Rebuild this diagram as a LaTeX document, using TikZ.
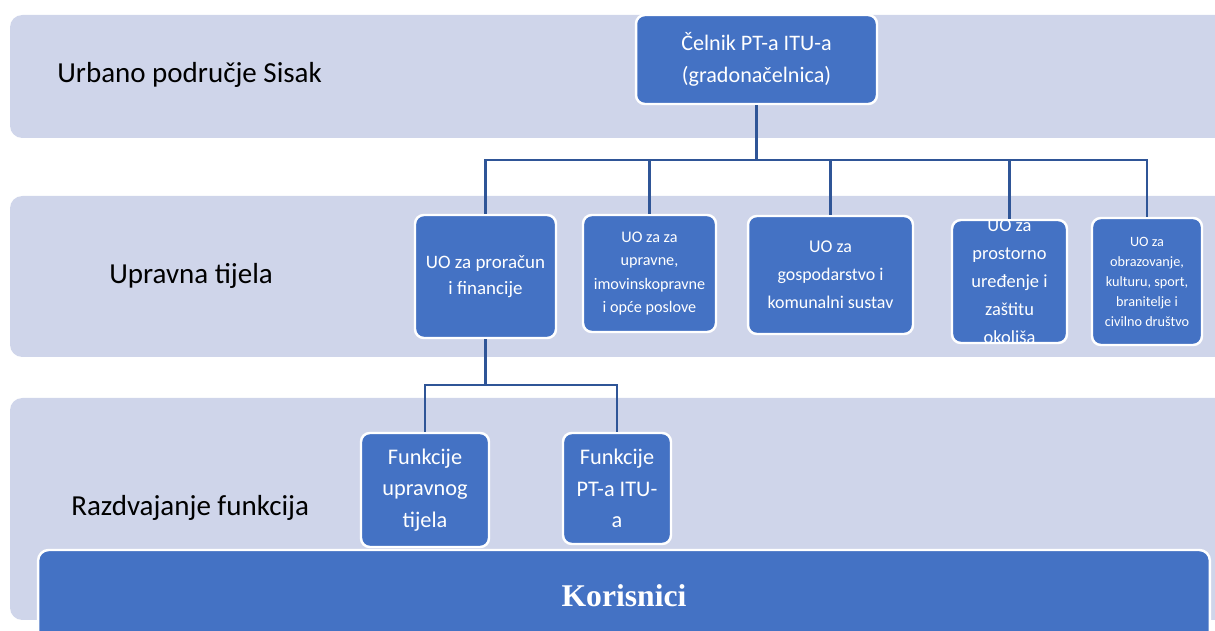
\documentclass[tikz,border=0pt]{standalone}
\usepackage{fontspec}
\setmainfont{Carlito}
\newfontfamily\korfont{Liberation Serif}
\definecolor{bandfill}{HTML}{CFD5EA}
\definecolor{boxfill}{HTML}{4472C4}
\definecolor{linkcol}{HTML}{2F5597}

\begin{document}
\begin{tikzpicture}
[   x=0.02cm, y=-0.02cm,
    band/.style={fill=bandfill,rounded corners=7pt},
    obox/.style={draw=white,line width=1.4pt,fill=boxfill,rounded corners=5pt,
                 text=white,align=center,inner sep=1pt},
    boxtxt/.style={text=white,align=center,inner sep=0pt},
    link/.style={draw=linkcol,line width=1.6pt},
    lbl/.style={anchor=west,inner sep=0pt,font=\fontsize{16.5}{20}\selectfont},
]
    \useasboundingbox (0,0) rectangle (1215,631);
    % background bands
    \fill[band] (10,15) rectangle (1245,138);
    \fill[band] (10,196) rectangle (1245,357);
    \fill[band] (10,398) rectangle (1245,620);

    \node[lbl] (l1) at (57,75) {Urbano područje Sisak};
    \node[lbl] (l2) at (109,276) {Upravna tijela};
    \node[lbl] (l3) at (71,508) {Razdvajanje funkcija};

    % boxes
    \node[obox,minimum width=4.82cm,minimum height=1.78cm,font=\fontsize{12.6}{18}\selectfont]
        (top) at (756.5,59.5) {Čelnik PT-a ITU-a\\(gradonačelnica)};
    \node[obox,minimum width=2.82cm,minimum height=2.46cm,font=\fontsize{10.8}{14.8}\selectfont]
        (b1) at (485.5,276.5) {UO za proračun\\i financije};
    \node[obox,minimum width=2.66cm,minimum height=2.34cm,font=\fontsize{9.2}{13.4}\selectfont]
        (b2) at (649.5,273.5) {UO za za\\upravne,\\imovinskopravne\\i opće poslove};
    \node[obox,minimum width=3.3cm,minimum height=2.36cm,font=\fontsize{10.2}{16}\selectfont]
        (b3) at (830.5,275) {UO za\\gospodarstvo i\\komunalni sustav};
    \node[obox,minimum width=2.3cm,minimum height=2.46cm] (b4) at (1009.5,281.5) {};
    \begin{scope}
        \clip (b4.north west) rectangle (b4.south east);
        \node[boxtxt,font=\fontsize{10.5}{16}\selectfont] (b4text) at (b4)
            {UO za\\prostorno\\uređenje i\\zaštitu\\okoliša};
    \end{scope}
    \node[obox,minimum width=2.2cm,minimum height=2.54cm,font=\fontsize{8.1}{11.4}\selectfont]
        (b5) at (1147,281.5) {UO za\\obrazovanje,\\kulturu, sport,\\branitelje i\\civilno društvo};
    \node[obox,minimum width=2.56cm,minimum height=2.28cm,font=\fontsize{12.7}{18}\selectfont]
        (f1) at (425,490) {Funkcije\\upravnog\\tijela};
    \node[obox,minimum width=2.16cm,minimum height=2.22cm,font=\fontsize{12.7}{18}\selectfont]
        (f2) at (617,488.5) {Funkcije\\PT-a ITU-\\a};
    \node[obox,rounded corners=6pt,minimum width=23.44cm,minimum height=1.84cm,
          font=\korfont\bfseries\fontsize{18}{22}\selectfont]
        (kor) at (624,596) {Korisnici};

    % connectors
    \coordinate (hub) at (756.5,160);
    \coordinate (hub2) at (485.5,385);
    \draw[link] (top) -- (hub);
    \foreach \n in {b1,b2,b3,b4,b5}
    {   \draw[link] (hub) -| (\n);
    }
    \draw[link] (b1) -- (hub2);
    \foreach \n in {f1,f2}
    {   \draw[link] (hub2) -| (\n);
    }
\end{tikzpicture}
\end{document}
